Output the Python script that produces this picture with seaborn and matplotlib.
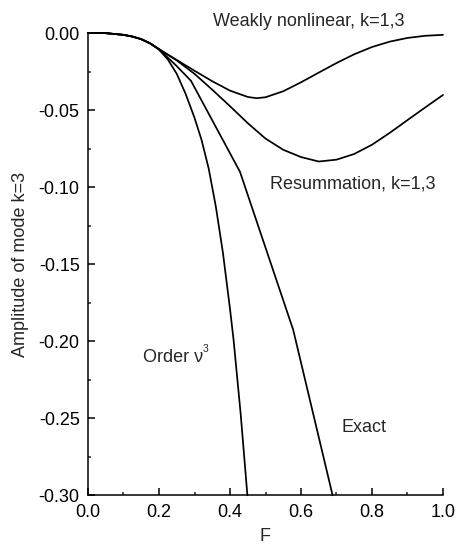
import numpy as np
import pandas as pd
import matplotlib
matplotlib.use("Agg")
import matplotlib.pyplot as plt
import seaborn as sns
from matplotlib.ticker import MultipleLocator

# ---- data ----
F_weak = [0.0, 0.05, 0.10, 0.125, 0.15, 0.175, 0.20, 0.25, 0.30, 0.35, 0.40, 0.45,
          0.475, 0.50, 0.55, 0.60, 0.65, 0.70, 0.75, 0.80, 0.85, 0.90, 0.95, 1.00]
A_weak = [0.0, -0.0001, -0.0012, -0.0023, -0.0040, -0.0067, -0.0105, -0.0175,
          -0.0245, -0.0313, -0.0374, -0.0415, -0.0423, -0.0417, -0.0378, -0.0320,
          -0.0257, -0.0195, -0.0138, -0.0091, -0.0056, -0.0032, -0.0018, -0.0012]

F_res = [0.0, 0.05, 0.10, 0.125, 0.15, 0.175, 0.20, 0.25, 0.30, 0.35, 0.40, 0.45,
         0.50, 0.55, 0.60, 0.65, 0.70, 0.75, 0.80, 0.85, 0.90, 0.95, 1.00]
A_res = [0.0, -0.0001, -0.0012, -0.0023, -0.0040, -0.0067, -0.0105, -0.0178,
         -0.0265, -0.0368, -0.0475, -0.0585, -0.0685, -0.0758, -0.0805, -0.0834,
         -0.0822, -0.0785, -0.0725, -0.0648, -0.0565, -0.0483, -0.0402]

F_exact = [0.0, 0.05, 0.10, 0.125, 0.15, 0.175, 0.20, 0.25, 0.29, 0.428, 0.578, 0.689]
A_exact = [0.0, -0.0001, -0.0012, -0.0023, -0.0040, -0.0067, -0.0105, -0.0215,
           -0.031, -0.090, -0.1926, -0.300]

F_order = [0.0, 0.05, 0.10, 0.125, 0.15, 0.175, 0.20, 0.225, 0.25, 0.275, 0.30,
           0.32, 0.34, 0.36, 0.38, 0.40, 0.41, 0.43, 0.449]
A_order = [0.0, -0.0001, -0.0012, -0.0023, -0.0040, -0.0068, -0.0108, -0.0172,
           -0.0265, -0.0395, -0.0550, -0.0695, -0.0880, -0.1125, -0.1425, -0.1790,
           -0.1990, -0.2470, -0.3000]

x_ticks = [0.0, 0.2, 0.4, 0.6, 0.8, 1.0]
y_ticks = [0.00, -0.05, -0.10, -0.15, -0.20, -0.25, -0.30]

sns.set_style("ticks")
plt.rcParams['font.family'] = ['Liberation Sans', 'DejaVu Sans']
plt.rcParams['font.size'] = 13

fig = plt.figure(figsize=(4.6, 5.5), dpi=100)
ax = fig.add_axes([88 / 460, (550 - 495.3) / 550, (443 - 88) / 460, (495.3 - 33) / 550])

series = [(F_weak, A_weak), (F_res, A_res), (F_exact, A_exact), (F_order, A_order)]
for xs, ys in series:
    df = pd.DataFrame({"F": xs, "A": ys})
    sns.lineplot(data=df, x="F", y="A", ax=ax, color="black", linewidth=1.25,
                 sort=False, estimator=None, clip_on=False)

ax.set_xlim(0.0, 1.0)
ax.set_ylim(-0.30, 0.0)
ax.set_xticks(x_ticks)
ax.set_xticklabels([f"{v:.1f}" for v in x_ticks])
ax.set_yticks(y_ticks)
ax.set_yticklabels([f"{v:.2f}" for v in y_ticks])
ax.xaxis.set_minor_locator(MultipleLocator(0.1))
ax.yaxis.set_minor_locator(MultipleLocator(0.025))
ax.tick_params(which="major", direction="in", length=5, width=1.1, labelsize=13,
               pad=6, colors="black")
ax.tick_params(which="minor", direction="in", length=2.5, width=1.1)
for s in ["top", "right"]:
    ax.spines[s].set_visible(False)
for s in ["left", "bottom"]:
    ax.spines[s].set_linewidth(1.1)
    ax.spines[s].set_color("black")

ax.set_xlabel("F", fontsize=13, labelpad=5)
ax.set_ylabel("Amplitude of mode k=3", fontsize=13, labelpad=7)

ax.text(0.352, 0.0045, "Weakly nonlinear, k=1,3", fontsize=13, ha="left",
        va="baseline", clip_on=False)
ax.text(0.513, -0.1012, "Resummation, k=1,3", fontsize=13, ha="left", va="baseline")
ax.text(0.155, -0.2132, "Order ν", fontsize=13, ha="left", va="baseline")
ax.text(0.324, -0.2067, "3", fontsize=7.5, ha="left", va="baseline")
ax.text(0.713, -0.2586, "Exact", fontsize=13, ha="left", va="baseline")

fig.savefig("out.png", dpi=100)
